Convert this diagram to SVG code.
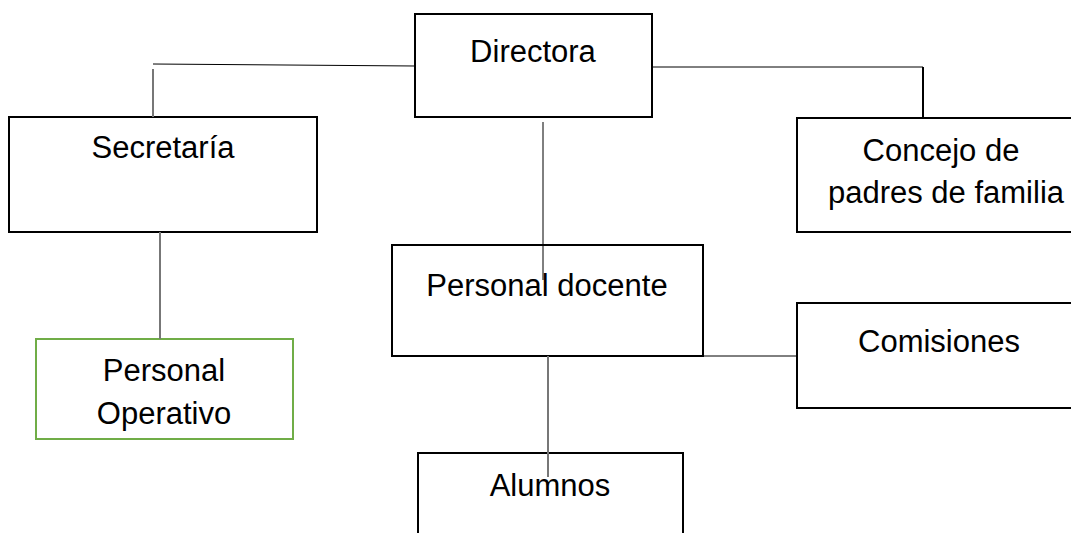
<svg xmlns="http://www.w3.org/2000/svg" width="1071" height="533" viewBox="0 0 1071 533">
<style>
.box{fill:#fff;stroke:#000;stroke-width:2}
.green{fill:#fff;stroke:#70ad47;stroke-width:2}
.lbl{font-family:"Liberation Sans",Arial,sans-serif;font-size:31px;fill:#000;text-anchor:middle}
.c{fill:none;stroke:#000;stroke-width:1}
.g{fill:none;stroke:#777;stroke-width:2}
.k{fill:none;stroke:#000;stroke-width:2}
</style>
<rect width="1071" height="533" fill="#fff"/>
<g id="n-directora"><rect class="box" x="415" y="14" width="237" height="103"/><text class="lbl" x="533" y="62">Directora</text></g>
<g id="n-secretaria"><rect class="box" x="9" y="117" width="308" height="115"/><text class="lbl" x="163" y="158">Secretaría</text></g>
<g id="n-concejo"><rect class="box" x="797" y="118" width="290" height="114"/><text class="lbl" x="941" y="161">Concejo de</text><text class="lbl" x="946" y="203">padres de familia</text></g>
<g id="n-docente"><rect class="box" x="392" y="245" width="311" height="111"/><text class="lbl" x="547" y="296">Personal docente</text></g>
<g id="n-comisiones"><rect class="box" x="797" y="303" width="290" height="105"/><text class="lbl" x="939" y="352">Comisiones</text></g>
<g id="n-operativo"><rect class="green" x="36" y="339" width="257" height="100"/><text class="lbl" x="164" y="381">Personal</text><text class="lbl" x="164" y="424">Operativo</text></g>
<g id="n-alumnos"><rect class="box" x="418" y="453" width="265" height="100"/><text class="lbl" x="550" y="496">Alumnos</text></g>
<g id="connectors">
<path class="c" d="M153 64 L415 66"/>
<path class="g" d="M153 69 V117"/>
<path class="g" d="M160 232 V339"/>
<path class="c" d="M543 122 V280"/>
<path class="g" d="M548 356 V477"/>
<path class="c" d="M652 67 H923"/>
<path class="k" d="M923 67 V118"/>
<path class="c" d="M703 356 H797"/>
</g>
</svg>
